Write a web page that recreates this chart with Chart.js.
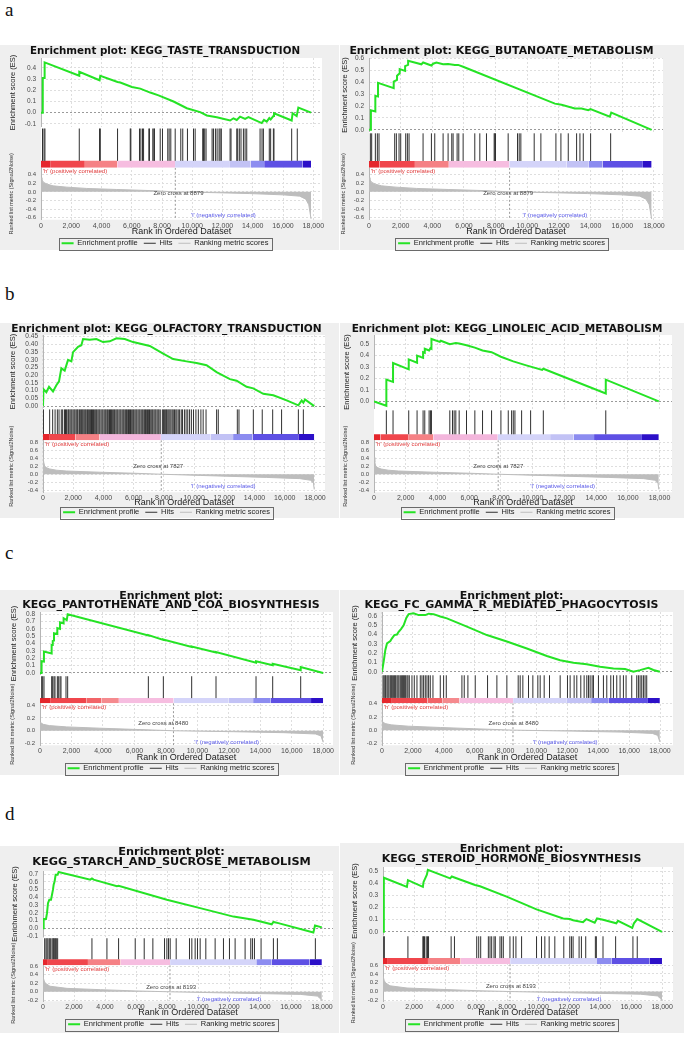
<!DOCTYPE html>
<html>
<head>
<meta charset="utf-8">
<script src="https://cdn.jsdelivr.net/npm/chart.js@4.4.1/dist/chart.umd.min.js"></script>
<style>
  body { margin: 0; width: 685px; height: 1039px; background: #fff; position: relative; overflow: hidden; }
  .lbl { position: absolute; left: 5px; font-family: 'Liberation Serif', serif; font-size: 19px; line-height: 19px; color: #111; }
  .bg { position: absolute; background: #efefef; }
  canvas { position: absolute; }
</style>
</head>
<body>
<div class="lbl" style="top:0px">a</div>
<div class="lbl" style="top:284px">b</div>
<div class="lbl" style="top:543px">c</div>
<div class="lbl" style="top:804px">d</div>
<script>
"use strict";

// tick labels
var xTickValues = [0, 2000, 4000, 6000, 8000, 10000, 12000, 14000, 16000, 18000];
var rowAMetricTicks = [-0.6, -0.4, -0.2, 0, 0.2, 0.4];
var rowBMetricTicks = [-0.4, -0.2, 0, 0.2, 0.4, 0.6, 0.8];
var rowCMetricTicks = [-0.2, 0, 0.2, 0.4];
var rowDMetricTicks = [-0.2, 0, 0.2, 0.4, 0.6];
var tasteTicks = [-0.1, 0, 0.1, 0.2, 0.3, 0.4];
var butanoateTicks = [0, 0.1, 0.2, 0.3, 0.4, 0.5, 0.6];
var olfactoryTicks = [0, 0.05, 0.1, 0.15, 0.2, 0.25, 0.3, 0.35, 0.4, 0.45];
var linoleicTicks = [0, 0.1, 0.2, 0.3, 0.4, 0.5];
var pantoTicks = [0, 0.1, 0.2, 0.3, 0.4, 0.5, 0.6, 0.7, 0.8];
var fcgrTicks = [0, 0.1, 0.2, 0.3, 0.4, 0.5, 0.6];
var starchTicks = [-0.1, 0, 0.1, 0.2, 0.3, 0.4, 0.5, 0.6, 0.7];
var steroidTicks = [0, 0.1, 0.2, 0.3, 0.4, 0.5];

// ---------------- row a (zero cross 8879) ----------------
var rowABands = [0, 650, 2900, 5040, 8860, 12490, 13860, 14750, 17300, 17850];
var rowAColors = ['#e5262c', '#f0464c', '#f58185', '#f6bde0', '#d4d4f9', '#c2c2f5', '#8c8cf0', '#5e50e4', '#2c10c8'];
var rowAMetric = [[0, 0.33], [60, 0.28], [180, 0.22], [400, 0.18], [800, 0.14], [1700, 0.11], [3000, 0.08], [5000, 0.055], [7200, 0.03], [8879, 0], [11600, -0.02], [13800, -0.04], [16000, -0.07], [17100, -0.1], [17500, -0.17], [17700, -0.3], [17850, -0.63]];

var tasteES = [[0, 0], [90, 0], [90, 0.16], [130, 0.16], [130, 0.31], [240, 0.31], [240, 0.45], [2530, 0.33], [2530, 0.365], [3870, 0.29], [3920, 0.33], [5060, 0.275], [5240, 0.27], [6010, 0.23], [6560, 0.215], [7220, 0.18], [7770, 0.155], [8760, 0.1], [9640, 0.04], [10520, 0.005], [10960, -0.025], [11620, -0.04], [12500, -0.07], [12720, -0.05], [12940, -0.065], [13160, -0.035], [13490, -0.055], [13710, -0.04], [14590, -0.093], [14740, -0.065], [14920, -0.08], [15090, -0.048], [15180, -0.06], [15360, -0.03], [15400, -0.005], [16570, -0.07], [16630, -0.005], [16900, -0.03], [17010, 0.046], [17850, 0]];
var tasteHits = [100, 200, 260, 2530, 3870, 3920, 5060, 5900, 5940, 6510, 6600, 6710, 6780, 7130, 7170, 7390, 7460, 7500, 7880, 8030, 8380, 8470, 8580, 8870, 9240, 9370, 9680, 10080, 10190, 10690, 10740, 10820, 10910, 11310, 11400, 11530, 11640, 11770, 11840, 11920, 12500, 12560, 12940, 13000, 13110, 13220, 13380, 13490, 13600, 14480, 14610, 14700, 15090, 15180, 15360, 15400, 16570, 16940];

var butanoateES = [[0, 0], [120, 0], [120, 0.165], [400, 0.155], [400, 0.285], [570, 0.28], [570, 0.395], [1560, 0.35], [1560, 0.405], [1770, 0.42], [1770, 0.455], [1940, 0.475], [1940, 0.51], [2280, 0.495], [2280, 0.535], [2470, 0.545], [2470, 0.58], [3310, 0.55], [3420, 0.565], [3940, 0.54], [4050, 0.555], [4260, 0.565], [4680, 0.55], [5000, 0.552], [5420, 0.545], [5630, 0.545], [5945, 0.53], [11740, 0.22], [12160, 0.21], [13000, 0.18], [13420, 0.18], [13850, 0.165], [13990, 0.175], [15210, 0.11], [15300, 0.145], [17850, 0]];
var butanoateHits = [84, 169, 401, 527, 632, 1623, 1729, 1897, 2003, 2319, 2424, 2530, 3415, 3942, 4153, 4680, 4996, 5228, 5312, 5565, 5671, 5945, 6682, 6999, 7420, 7905, 7947, 7989, 8790, 9381, 9486, 9591, 10434, 10856, 11805, 12121, 12585, 13112, 13322, 13533, 13997, 15262];

// ---------------- row b (zero cross 7827) ----------------
var rowBBands = [0, 400, 2150, 3740, 7800, 11100, 12580, 13870, 16890, 17950];
var rowBColors = ['#e5262c', '#f0464c', '#f58185', '#f3b6dc', '#d4d4f9', '#c2c2f5', '#8c8cf0', '#5e50e4', '#2c10c8'];
var rowBMetric = [[0, 0.42], [50, 0.3], [110, 0.2], [250, 0.16], [450, 0.13], [900, 0.1], [1550, 0.08], [3750, 0.05], [6000, 0.025], [7827, 0], [10400, -0.03], [14800, -0.08], [17000, -0.11], [17700, -0.15], [17900, -0.22], [17950, -0.38]];

var olfactoryES = [[0, 0], [30, 0.11], [221, 0.09], [398, 0.125], [663, 0.095], [884, 0.135], [1060, 0.16], [1215, 0.245], [1436, 0.23], [1657, 0.3], [1878, 0.29], [1988, 0.35], [2319, 0.385], [2540, 0.395], [2651, 0.435], [3093, 0.43], [3534, 0.435], [3976, 0.415], [4418, 0.42], [4860, 0.44], [5412, 0.435], [5964, 0.415], [7069, 0.39], [7952, 0.34], [8615, 0.305], [9499, 0.29], [10161, 0.28], [10824, 0.265], [11487, 0.22], [12370, 0.175], [12812, 0.165], [13475, 0.125], [13917, 0.115], [14579, 0.08], [15242, 0.07], [16126, 0.037], [16899, 0.005], [17120, 0.037], [17230, 0.022], [17341, 0.043], [17950, 0]];
var olfactoryHits = [30, 440, 640, 800, 950, 1060, 1210, 1300, 1420, 1490, 1560, 1650, 1700, 1780, 1850, 1910, 1990, 2060, 2120, 2200, 2270, 2320, 2410, 2470, 2540, 2600, 2660, 2730, 2800, 2860, 2940, 3000, 3070, 3150, 3210, 3280, 3340, 3420, 3490, 3550, 3630, 3700, 3760, 3840, 3910, 3970, 4050, 4120, 4180, 4260, 4320, 4400, 4470, 4530, 4610, 4680, 4740, 4820, 4890, 4950, 5030, 5100, 5160, 5240, 5310, 5370, 5450, 5520, 5580, 5660, 5730, 5790, 5870, 5940, 6000, 6080, 6150, 6210, 6290, 6360, 6420, 6500, 6570, 6630, 6710, 6780, 6840, 6920, 6990, 7050, 7130, 7200, 7260, 7340, 7410, 7470, 7550, 7620, 7680, 7760, 7900, 7970, 8050, 8120, 8180, 8260, 8330, 8400, 8470, 8550, 8620, 8700, 8790, 8860, 8950, 9040, 9150, 9230, 9360, 9470, 9580, 9700, 9820, 9960, 10120, 10280, 10450, 10600, 10790, 11490, 11600, 12860, 12970, 13920, 14510, 15200, 15790, 16900, 17230];

var linoleicES = [[0, 0], [779, -0.038], [779, 0.19], [1200, 0.17], [1200, 0.335], [2189, 0.28], [2189, 0.367], [2715, 0.338], [2715, 0.4], [3094, 0.38], [3094, 0.43], [3200, 0.425], [3200, 0.46], [3473, 0.445], [3557, 0.465], [3621, 0.46], [3621, 0.545], [4147, 0.52], [4210, 0.53], [4778, 0.5], [5157, 0.51], [5368, 0.505], [5831, 0.49], [6357, 0.47], [6841, 0.445], [7410, 0.43], [7999, 0.39], [8778, 0.35], [9600, 0.315], [10600, 0.275], [10672, 0.285], [14609, 0.07], [14609, 0.19], [17950, 0]];
var linoleicHits = [779, 1200, 2189, 2715, 3094, 3200, 3473, 3557, 3621, 4778, 4947, 5052, 5157, 5368, 5831, 6357, 6841, 7410, 7999, 8462, 8673, 8778, 8883, 9304, 9872, 10672, 14609];

// ---------------- row c (zero cross 8480) ----------------
var rowCBands = [0, 640, 2940, 3900, 5010, 8490, 11966, 13540, 14660, 17220, 17990];
var rowCColors = ['#e5262c', '#f0464c', '#f26468', '#f58a8e', '#f6bde0', '#d4d4f9', '#c2c2f5', '#8c8cf0', '#5e50e4', '#2c10c8'];
var rowCMetric = [[0, 0.135], [200, 0.1], [600, 0.08], [1700, 0.06], [3800, 0.04], [5900, 0.022], [8480, 0], [12300, -0.015], [15500, -0.03], [17500, -0.05], [17850, -0.08], [17990, -0.18]];

var pantoES = [[0, 0], [100, 0], [100, 0.16], [250, 0.155], [250, 0.29], [740, 0.265], [740, 0.38], [810, 0.38], [810, 0.435], [890, 0.44], [890, 0.54], [1100, 0.53], [1100, 0.61], [1270, 0.6], [1270, 0.69], [1500, 0.675], [1500, 0.745], [1700, 0.72], [1760, 0.8], [6884, 0.51], [6884, 0.515], [7837, 0.45], [7837, 0.455], [9637, 0.355], [9637, 0.36], [11183, 0.28], [11183, 0.285], [13725, 0.14], [13725, 0.16], [14784, 0.105], [14784, 0.125], [16563, 0.035], [16563, 0.08], [17990, 0]];
var pantoHits = [106, 169, 254, 741, 805, 890, 953, 1101, 1165, 1271, 1334, 1652, 1758, 6884, 7837, 9637, 11183, 13725, 14784, 16563];

var fcgrES = [[0, 0], [108, 0.11], [216, 0.235], [323, 0.305], [539, 0.33], [647, 0.36], [798, 0.395], [970, 0.4], [1078, 0.43], [1229, 0.46], [1401, 0.5], [1574, 0.58], [1725, 0.62], [2048, 0.63], [2372, 0.61], [2803, 0.61], [3018, 0.625], [3342, 0.62], [3773, 0.595], [4204, 0.575], [5498, 0.485], [6791, 0.395], [8085, 0.325], [9379, 0.25], [10672, 0.17], [11535, 0.125], [12397, 0.097], [13259, 0.08], [14122, 0.054], [14984, 0.036], [15739, 0.03], [16278, 0], [16709, 0.018], [17248, 0.043], [17571, 0.02], [17990, 0]];
var fcgrHits = [65, 129, 194, 237, 323, 388, 453, 539, 604, 668, 755, 819, 884, 970, 1035, 1100, 1186, 1272, 1337, 1401, 1466, 1531, 1617, 1682, 1768, 1940, 2091, 2264, 2479, 2587, 2695, 2803, 2911, 3018, 3126, 3299, 3773, 3989, 4161, 5174, 5325, 5562, 6037, 6834, 7438, 8085, 8818, 8947, 9120, 9486, 9767, 10090, 10241, 10500, 10845, 11535, 12009, 12181, 12440, 12613, 12871, 13087, 13259, 13367, 13475, 13604, 13690, 14014, 14337, 14553, 14812, 14984, 15200, 15415, 15631, 15803, 16170, 16493, 16601, 16709, 16817, 16925, 17032, 17140];

// ---------------- row d (zero cross 8193) ----------------
var rowDBands = [0, 260, 2900, 5000, 8200, 13760, 14750, 17200, 17990];
var rowDColors = ['#e5262c', '#f0464c', '#f58185', '#f6bde0', '#d4d4f9', '#8c8cf0', '#5e50e4', '#2c10c8'];
var rowDMetric = [[0, 0.35], [80, 0.25], [150, 0.2], [450, 0.13], [1550, 0.08], [3700, 0.05], [6000, 0.02], [8193, 0], [12300, -0.03], [16600, -0.06], [17700, -0.1], [17900, -0.16], [17990, -0.21]];

var starchES = [[0, 0], [43, 0.12], [193, 0.12], [258, 0.195], [322, 0.325], [408, 0.37], [516, 0.37], [580, 0.435], [644, 0.5], [687, 0.565], [752, 0.61], [816, 0.695], [945, 0.695], [1010, 0.73], [3050, 0.63], [3158, 0.645], [3265, 0.63], [4769, 0.545], [4876, 0.55], [7991, 0.37], [10139, 0.26], [12287, 0.15], [13575, 0.11], [14757, 0.05], [14864, 0.08], [15186, 0.065], [17442, -0.057], [17549, 0.035], [17990, 0.01]];
var starchHits = [107, 193, 258, 322, 408, 473, 580, 644, 687, 752, 816, 859, 945, 3158, 4124, 4876, 5950, 6530, 7088, 7840, 7991, 8098, 8206, 8592, 9451, 9602, 9816, 9967, 10139, 10504, 11105, 11642, 12029, 12394, 13038, 13403, 13511, 13640, 14069, 14864, 15122, 17571];

var steroidES = [[0, 0], [43, 0.235], [64, 0.445], [1543, 0.37], [1607, 0.425], [2572, 0.37], [2614, 0.41], [2722, 0.44], [2829, 0.47], [2893, 0.51], [4329, 0.44], [4436, 0.455], [4650, 0.445], [5936, 0.385], [6258, 0.375], [7972, 0.29], [9901, 0.185], [11615, 0.11], [12044, 0.105], [12258, 0.095], [12901, 0.08], [13115, 0.105], [13651, 0.075], [13801, 0.11], [14187, 0.1], [15044, 0.07], [15151, 0.09], [16073, 0.033], [16180, 0.07], [16394, 0.105], [17990, 0]];
var steroidHits = [43, 86, 1607, 2572, 2614, 2679, 2786, 2872, 2936, 4393, 4607, 6043, 6172, 6300, 6793, 6900, 7008, 7158, 7243, 7543, 7651, 7758, 8186, 8401, 8572, 8936, 9901, 10222, 10436, 10715, 11079, 11658, 12044, 12151, 12258, 12644, 12794, 13072, 13694, 13758, 14187, 15001, 16116, 16394];

var legendNames = ['Enrichment profile', 'Hits', 'Ranking metric scores'];
var narrow = "'Liberation Sans Narrow', 'Liberation Sans', sans-serif";

// layout of the eight panels (page pixels)
var panels = [
  { title: 'Enrichment plot: KEGG_TASTE_TRANSDUCTION', es: tasteES, hits: tasteHits, metric: rowAMetric, bands: rowABands, colors: rowAColors, zero: 8879,
    esTicks: tasteTicks, metTicks: rowAMetricTicks, zeroAt: [9086, -0.03], lowAt: [12056, -0.55],
    left: 0, top: 45, width: 339, bgH: 205, tSize: 10.3, tLine: 13, tPad: [0, 0], yW: 33, padL: 8, padR: 17, xMax: 18574,
    esMin: -0.127, esMax: 0.489, esDec: 1, metMin: -0.65, metMax: 0.56, wES: 69, wHit: 41, wMet: 52, cb: 0.17,
    chartBottom: 220, legendY: 243.5, rankY: 232 },
  { title: 'Enrichment plot: KEGG_BUTANOATE_METABOLISM', es: butanoateES, hits: butanoateHits, metric: rowAMetric, bands: rowABands, colors: rowAColors, zero: 8879,
    esTicks: butanoateTicks, metTicks: rowAMetricTicks, zeroAt: [8790, -0.03], lowAt: [11742, -0.55],
    left: 340, top: 45, width: 344, bgH: 205, tSize: 10.9, tLine: 13, tPad: [0, 0], yW: 29, padL: 0, padR: 21, xMax: 18569,
    esMin: -0.017, esMax: 0.603, esDec: 1, metMin: -0.65, metMax: 0.56, wES: 74, wHit: 36, wMet: 52, cb: 0.19,
    chartBottom: 220, legendY: 243.5, rankY: 232 },
  { title: 'Enrichment plot: KEGG_OLFACTORY_TRANSDUCTION', es: olfactoryES, hits: olfactoryHits, metric: rowBMetric, bands: rowBBands, colors: rowBColors, zero: 7827,
    esTicks: olfactoryTicks, metTicks: rowBMetricTicks, zeroAt: [7620, 0.2], lowAt: [11929, -0.31],
    left: 0, top: 323, width: 339, bgH: 195, tSize: 10.6, tLine: 12, tPad: [0, 0], yW: 35, padL: 8, padR: 14, xMax: 18663,
    esMin: -0.013, esMax: 0.461, esDec: 2, metMin: -0.45, metMax: 0.85, wES: 73, wHit: 32, wMet: 52, cb: 0.19,
    chartBottom: 492, legendY: 512, rankY: 502 },
  { title: 'Enrichment plot: KEGG_LINOLEIC_ACID_METABOLISM', es: linoleicES, hits: linoleicHits, metric: rowBMetric, bands: rowBBands, colors: rowBColors, zero: 7827,
    esTicks: linoleicTicks, metTicks: rowBMetricTicks, zeroAt: [7831, 0.2], lowAt: [11893, -0.31],
    left: 340, top: 323, width: 344, bgH: 195, tSize: 10.5, tLine: 12, tPad: [0, 0], yW: 32, padL: 2, padR: 12, xMax: 18783,
    esMin: -0.067, esMax: 0.58, esDec: 1, metMin: -0.45, metMax: 0.85, wES: 74, wHit: 31, wMet: 52, cb: 0.19,
    chartBottom: 492, legendY: 512, rankY: 502 },
  { title: ['Enrichment plot:', 'KEGG_PANTOTHENATE_AND_COA_BIOSYNTHESIS'], es: pantoES, hits: pantoHits, metric: rowCMetric, bands: rowCBands, colors: rowCColors, zero: 8480,
    esTicks: pantoTicks, metTicks: rowCMetricTicks, zeroAt: [7837, 0.11], lowAt: [11861, -0.18],
    left: 0, top: 590, width: 339, bgH: 185, tSize: 11, tLine: 9, tPad: [1.5, 2.5], yW: 31, padL: 9, padR: 6, xMax: 18616,
    esMin: -0.03, esMax: 0.83, esDec: 1, metMin: -0.226, metMax: 0.43, wES: 63, wHit: 28, wMet: 42, cb: 0.18,
    chartBottom: 745, legendY: 768, rankY: 757 },
  { title: ['Enrichment plot:', 'KEGG_FC_GAMMA_R_MEDIATED_PHAGOCYTOSIS'], es: fcgrES, hits: fcgrHits, metric: rowCMetric, bands: rowCBands, colors: rowCColors, zero: 8480,
    esTicks: fcgrTicks, metTicks: rowCMetricTicks, zeroAt: [8516, 0.11], lowAt: [11858, -0.18],
    left: 340, top: 590, width: 344, bgH: 185, tSize: 11, tLine: 9, tPad: [1.5, 2.5], yW: 32, padL: 10, padR: 11, xMax: 18841,
    esMin: -0.025, esMax: 0.643, esDec: 1, metMin: -0.23, metMax: 0.41, wES: 62, wHit: 29, wMet: 42, cb: 0.18,
    chartBottom: 745, legendY: 768, rankY: 757 },
  { title: ['Enrichment plot:', 'KEGG_STARCH_AND_SUCROSE_METABOLISM'], es: starchES, hits: starchHits, metric: rowDMetric, bands: rowDBands, colors: rowDColors, zero: 8193,
    esTicks: starchTicks, metTicks: rowDMetricTicks, zeroAt: [8270, 0.115], lowAt: [12000, -0.17],
    left: 0, top: 846, width: 339, bgH: 187, tSize: 11.3, tLine: 10, tPad: [1, 4], yW: 33, padL: 10, padR: 6, xMax: 18709,
    esMin: -0.117, esMax: 0.743, esDec: 1, metMin: -0.22, metMax: 0.62, wES: 66, wHit: 28, wMet: 36, cb: 0.21,
    chartBottom: 1001, legendY: 1024, rankY: 1012 },
  { title: ['Enrichment plot:', 'KEGG_STEROID_HORMONE_BIOSYNTHESIS'], es: steroidES, hits: steroidHits, metric: rowDMetric, bands: rowDBands, colors: rowDColors, zero: 8193,
    esTicks: steroidTicks, metTicks: rowDMetricTicks, zeroAt: [8250, 0.115], lowAt: [12000, -0.17],
    left: 340, top: 843, width: 344, bgH: 190, tSize: 11, tLine: 10, tPad: [1, 3], yW: 33, padL: 10, padR: 11, xMax: 18700,
    esMin: -0.027, esMax: 0.533, esDec: 1, metMin: -0.22, metMax: 0.62, wES: 68, wHit: 29, wMet: 37, cb: 0.21,
    chartBottom: 1001, legendY: 1024, rankY: 1012 }
];

function pts(arr) {
  return arr.map(function (d) { return { x: d[0], y: d[1] }; });
}

function hitPoints(hits, lo) {
  var out = [];
  hits.forEach(function (h) {
    out.push({ x: h, y: lo }, { x: h, y: 0.96 }, { x: h, y: null });
  });
  return out;
}

function tickSetter(values) {
  return function (s) {
    s.ticks = values.map(function (v) { return { value: v }; });
  };
}

var tickColor = '#4a4a4a';
var gridColor = '#dedede';

function gseaPanel(p) {
  var legendTop = p.legendY - 9.75;
  var xH = legendTop - p.chartBottom;
  var canvasH = Math.round(legendTop + 23.5 - p.top);

  var bg = document.createElement('div');
  bg.className = 'bg';
  bg.style.left = p.left + 'px';
  bg.style.top = p.top + 'px';
  bg.style.width = p.width + 'px';
  bg.style.height = p.bgH + 'px';
  document.body.appendChild(bg);

  var cv = document.createElement('canvas');
  cv.width = p.width;
  cv.height = canvasH;
  cv.style.left = p.left + 'px';
  cv.style.top = p.top + 'px';
  document.body.appendChild(cv);

  var ds = [];
  ds.push({ label: 'Enrichment profile', data: pts(p.es), yAxisID: 'yES', borderColor: '#25e325', backgroundColor: '#25e325', borderWidth: 2, pointStyle: 'line' });
  ds.push({ label: 'Hits', data: hitPoints(p.hits, p.cb), yAxisID: 'yHit', borderColor: '#303030', backgroundColor: '#303030', borderWidth: 1, spanGaps: false, pointStyle: 'line' });
  ds.push({ label: 'Ranking metric scores', data: pts(p.metric), yAxisID: 'yMet', borderColor: '#bdbdbd', backgroundColor: '#bdbdbd', borderWidth: 1, fill: 'origin', pointStyle: 'line' });
  ds.push({ data: [{ x: p.zero, y: p.metMax }, { x: p.zero, y: p.metMin }], yAxisID: 'yMet', borderColor: '#9a9a9a', borderWidth: 1, borderDash: [2, 2] });
  for (var i = 0; i < p.colors.length; i++) {
    ds.push({ data: [{ x: p.bands[i], y: p.cb }, { x: p.bands[i + 1], y: p.cb }], yAxisID: 'yHit',
      borderColor: 'rgba(0,0,0,0)', borderWidth: 0, backgroundColor: p.colors[i], fill: { value: 0 } });
  }
  // white backing of the hits strip, hides the x grid there
  ds.push({ data: [{ x: 0, y: 1 }, { x: p.xMax, y: 1 }], yAxisID: 'yHit',
    borderColor: 'rgba(0,0,0,0)', borderWidth: 0, backgroundColor: '#ffffff', fill: { value: 0 } });

  var decor = {
    id: 'gseaDecor',
    beforeDraw: function (chart) {
      var a = chart.chartArea, ctx = chart.ctx;
      ctx.save();
      ctx.fillStyle = '#ffffff';
      ctx.fillRect(a.left, a.top, a.right - a.left, a.bottom - a.top);
      ctx.restore();
    },
    afterDatasetsDraw: function (chart) {
      var ctx = chart.ctx, x = chart.scales.x, ym = chart.scales.yMet;
      ctx.save();
      ctx.font = '6px "Liberation Sans"';
      ctx.textBaseline = 'middle';
      ctx.textAlign = 'left';
      ctx.fillStyle = '#e03a3a';
      ctx.fillText("'h' (positively correlated)", x.getPixelForValue(120), ym.top + 4);
      ctx.textAlign = 'center';
      ctx.fillStyle = '#444444';
      ctx.fillText('Zero cross at ' + p.zero, x.getPixelForValue(p.zeroAt[0]), ym.getPixelForValue(p.zeroAt[1]));
      ctx.fillStyle = '#5a5ae8';
      ctx.fillText("'l' (negatively correlated)", x.getPixelForValue(p.lowAt[0]), ym.getPixelForValue(p.lowAt[1]));
      ctx.restore();
    },
    afterDraw: function (chart) {
      var boxes = chart.legend.legendHitBoxes, ctx = chart.ctx;
      if (!boxes || !boxes.length) return;
      var l = Infinity, r = -Infinity;
      boxes.forEach(function (b) { l = Math.min(l, b.left); r = Math.max(r, b.left + b.width); });
      var t = boxes[0].top - 2, btm = boxes[0].top + boxes[0].height + 2;
      ctx.save();
      ctx.strokeStyle = '#6a6a6a';
      ctx.lineWidth = 1;
      ctx.strokeRect(Math.round(l - 3) + 0.5, Math.round(t) + 0.5, Math.round(r - l + 6), Math.round(btm - t));
      ctx.restore();
    }
  };

  function fixW(s) { s.width = p.yW; }

  new Chart(cv.getContext('2d'), {
    type: 'line',
    data: { datasets: ds },
    options: {
      responsive: false,
      animation: false,
      events: [],
      layout: { padding: { left: p.padL, right: p.padR, top: 0, bottom: 0 } },
      elements: { point: { radius: 0, hoverRadius: 0 }, line: { tension: 0, fill: false } },
      scales: {
        x: {
          type: 'linear', min: 0, max: p.xMax,
          afterBuildTicks: tickSetter(xTickValues),
          ticks: { autoSkip: false, maxRotation: 0, padding: 2, color: tickColor,
            font: { family: 'Liberation Sans', size: 7 },
            callback: function (v) { return v.toLocaleString('en-US'); } },
          grid: { color: gridColor, drawTicks: false },
          border: { display: false, dash: [2, 2] },
          title: { display: true, text: 'Rank in Ordered Dataset', color: '#222', font: { family: 'Liberation Sans', size: 9 },
            padding: { top: 0, bottom: legendTop - p.rankY - 5.4 } },
          afterFit: function (s) { s.height = xH; }
        },
        yMet: {
          type: 'linear', position: 'left', stack: 'gsea', stackWeight: p.wMet, offset: false,
          min: p.metMin, max: p.metMax,
          afterBuildTicks: tickSetter(p.metTicks),
          ticks: { autoSkip: false, padding: 5, color: tickColor, font: { family: 'Liberation Sans', size: 6 },
            callback: function (v) { return v.toFixed(1); } },
          grid: { color: gridColor, drawTicks: false },
          border: { color: '#b5b5b5', dash: [2, 2] },
          title: { display: true, text: 'Ranked list metric (Signal2Noise)', color: '#333', font: { family: narrow, size: 5.5 }, padding: 0 },
          afterFit: fixW
        },
        yHit: {
          type: 'linear', position: 'left', stack: 'gsea', stackWeight: p.wHit, offset: false,
          min: 0, max: 1,
          ticks: { display: false },
          grid: { display: false },
          border: { color: '#b5b5b5' },
          afterFit: fixW
        },
        yES: {
          type: 'linear', position: 'left', stack: 'gsea', stackWeight: p.wES, offset: false,
          min: p.esMin, max: p.esMax,
          afterBuildTicks: tickSetter(p.esTicks),
          ticks: { autoSkip: false, padding: 5, color: tickColor, font: { family: 'Liberation Sans', size: 6.5 },
            callback: function (v) { return v.toFixed(p.esDec); } },
          grid: {
            color: function (c) { return c.tick && Math.abs(c.tick.value) < 1e-9 ? '#9a9a9a' : gridColor; },
            drawTicks: false
          },
          border: { color: '#b5b5b5', dash: [2, 2] },
          title: { display: true, text: 'Enrichment score (ES)', color: '#222', font: { family: narrow, size: 7.5 }, padding: 0 },
          afterFit: fixW
        }
      },
      plugins: {
        title: { display: true, text: p.title, color: '#111',
          font: { family: 'DejaVu Sans', size: p.tSize, weight: 'bold', lineHeight: p.tLine + 'px' },
          padding: { top: p.tPad[0], bottom: p.tPad[1] } },
        legend: { display: true, position: 'bottom',
          labels: { filter: function (item) { return legendNames.indexOf(item.text) >= 0; },
            usePointStyle: true, pointStyleWidth: 12,
            color: '#222', font: { family: 'Liberation Sans', size: 7.5 }, padding: 6 } },
        tooltip: { enabled: false }
      }
    },
    plugins: [decor]
  });
}

panels.forEach(gseaPanel);
</script>
</body>
</html>
